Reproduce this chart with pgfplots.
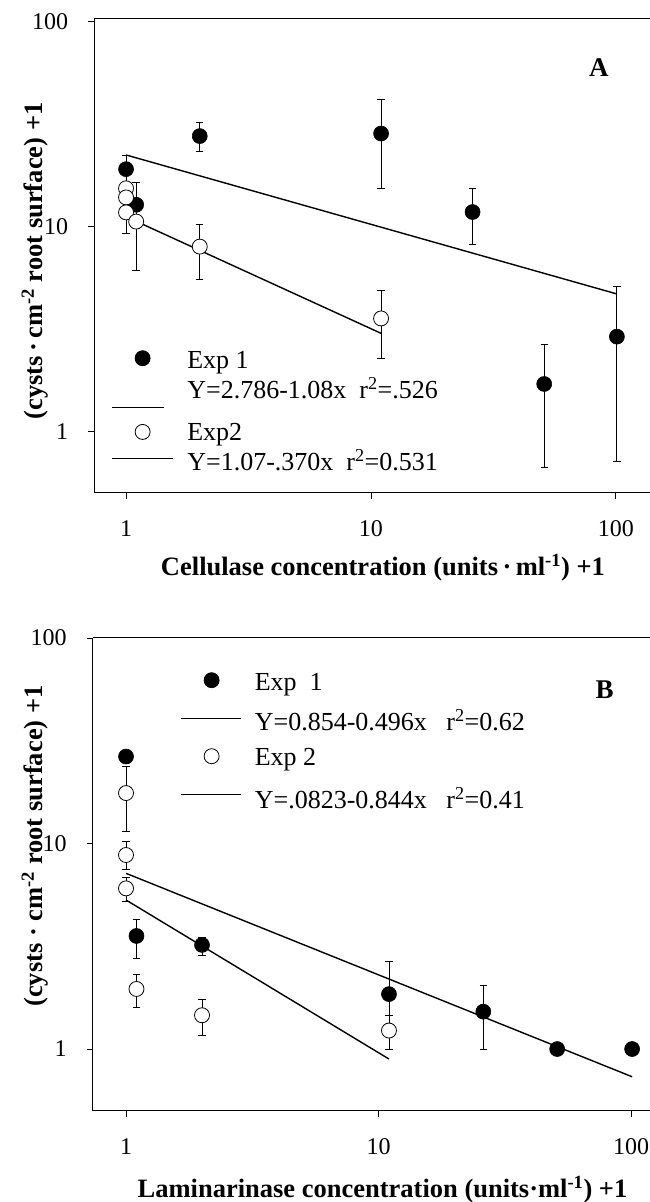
\documentclass[border=0pt]{standalone}
\usepackage{fontspec}
\setmainfont{Liberation Serif}
\usepackage{pgfplots}
\pgfplotsset{compat=1.18}

\pgfplotsset{
  regline/.style={no marks, line width=1.4bp, black},
  ebars/.style={
    error bars/y dir=both, error bars/y explicit,
    error bars/error bar style={line width=0.8bp, black},
    error bars/error mark options={rotate=90, mark size=3.7bp, line width=0.8bp, black}},
  fullpt/.style={only marks, mark=*, mark size=7.5bp,
    mark options={fill=black, draw=black, line width=0.6bp}, ebars},
  hollowpt/.style={only marks, mark=*, mark size=7.5bp,
    mark options={fill=white, draw=black, line width=0.8bp}, ebars},
}
% legend keys: #1 fill / line length, #2 y offset from the text centre,
% #3 depth and #4 height of the row around the text centre
\newcommand\dotkey[4]{\addlegendimage{legend image code/.code={%
  \path[draw=none, fill=none] (0bp,-#3) rectangle (61bp,#4);
  \draw[fill=#1, line width=0.8bp] (30.7bp,#2) circle (7.5bp);}}}
\newcommand\linekey[4]{\addlegendimage{legend image code/.code={%
  \path[draw=none, fill=none] (0bp,-#3) rectangle (61bp,#4);
  \draw[line width=1.4bp] (0bp,#2) -- (#1,#2);}}}

\begin{document}
\begin{tikzpicture}
\useasboundingbox (0,0) rectangle (650bp,-1202bp);

% ---------- panel A: cellulase ----------
\begin{axis}[scale only axis, xmode=log, ymode=log,
  axis x line=box, axis y line=left,
  axis line style={-, line width=1bp},
  xtick pos=left, ytick pos=left, tick align=outside,
  major tick length=6bp, tick style={line width=0.8bp, black},
  minor tick length=0pt,
  xtick={1,10,100}, xticklabels={1,10,100},
  ytick={1,10,100}, yticklabels={1,10,100},
  ticklabel style={font=\fontsize{24bp}{24bp}\selectfont, inner sep=0pt},
  yticklabel style={anchor=east, xshift=-20bp},
  xticklabel style={anchor=north, yshift=-22bp},
  label style={font=\bfseries\fontsize{26.5bp}{30bp}\selectfont},
  legend cell align=left,
  clip=false,
  width=555.7bp, height=474.4bp,
  at={(94.3bp,-492.7bp)}, anchor=south west,
  xmin=0.742, xmax=137.9, ymin=0.504, ymax=104,
  xlabel={Cellulase concentration (units\,·\,ml\textsuperscript{-1}) +1},
  ylabel={(cysts\,·\,cm\textsuperscript{-2} root surface) +1},
  xlabel style={at={(rel axis cs:0.5195,-0.1587)}, anchor=center},
  ylabel style={at={(rel axis cs:-0.1067,0.4884)}, anchor=center},
  legend style={draw=none, fill=none, inner sep=0pt, row sep=0pt,
    font=\fontsize{26bp}{30bp}\selectfont,
    nodes={inner sep=0pt, text height=17.2bp, text depth=0bp},
    at={(0.0301,0.3113)}, anchor=north west, column sep=14bp}]

\addplot[forget plot, regline] coordinates {(1,22.4) (101,4.70)};
\addplot[forget plot, regline] coordinates {(1,11.2) (11,3.02)};

\addplot[forget plot, fullpt] coordinates {
  (1,19.1)   += (0,3.3)  -= (0,3.0)
  (1.1,12.8) += (0,3.6)  -= (0,2.0)
  (2,27.7)   += (0,4.5)  -= (0,4.5)
  (11,28.5)  += (0,13.3) -= (0,13.1)
  (26,11.8)  += (0,3.6)  -= (0,3.6)
  (51,1.71)  += (0,0.97) -= (0,1.04)
  (101,2.91) += (0,2.18) -= (0,2.19)
};
\addplot[forget plot, hollowpt] coordinates {
  (1,15.4)   += (0,0)   -= (0,0)
  (1,13.9)   += (0,2.5) -= (0,4.6)
  (1,11.75)  += (0,0)   -= (0,0)
  (1.1,10.6) += (0,2.0) -= (0,4.5)
  (2,8.0)    += (0,2.3) -= (0,2.45)
  (11,3.57)  += (0,1.3) -= (0,1.29)
};

\dotkey{black}{2bp}{15bp}{15bp}
\addlegendentry{Exp 1}
\linekey{51.7bp}{-17bp}{26.7bp}{15bp}
\addlegendentry{Y=2.786-1.08x\hspace{0.5em}r\textsuperscript{2}=.526}
\dotkey{white}{0bp}{15bp}{15bp}
\addlegendentry{Exp2}
\linekey{60.7bp}{3.7bp}{15bp}{15bp}
\addlegendentry{Y=1.07-.370x\hspace{0.5em}r\textsuperscript{2}=0.531}

\node[font=\bfseries\fontsize{27bp}{27bp}\selectfont] at (rel axis cs:0.9082,0.8952) {A};
\end{axis}

% ---------- panel B: laminarinase ----------
\begin{axis}[scale only axis, xmode=log, ymode=log,
  axis x line=box, axis y line=left,
  axis line style={-, line width=1bp},
  xtick pos=left, ytick pos=left, tick align=outside,
  major tick length=6bp, tick style={line width=0.8bp, black},
  minor tick length=0pt,
  xtick={1,10,100}, xticklabels={1,10,100},
  ytick={1,10,100}, yticklabels={1,10,100},
  ticklabel style={font=\fontsize{24bp}{24bp}\selectfont, inner sep=0pt},
  yticklabel style={anchor=east, xshift=-20bp},
  xticklabel style={anchor=north, yshift=-22bp},
  label style={font=\bfseries\fontsize{26.5bp}{30bp}\selectfont},
  legend cell align=left,
  clip=false,
  width=557.3bp, height=473bp,
  at={(92.7bp,-1110.7bp)}, anchor=south west,
  xmin=0.738, xmax=118.9, ymin=0.501, ymax=100.3,
  xlabel={Laminarinase concentration (units·ml\textsuperscript{-1}) +1},
  ylabel={(cysts · cm\textsuperscript{-2} root surface) +1},
  xlabel style={at={(rel axis cs:0.52,-0.1677)}, anchor=center},
  ylabel style={at={(rel axis cs:-0.1035,0.5596)}, anchor=center},
  legend style={draw=none, fill=none, inner sep=0pt, row sep=0pt,
    font=\fontsize{26bp}{30bp}\selectfont,
    nodes={inner sep=0pt, text height=17.2bp, text depth=0bp},
    at={(0.1567,0.9387)}, anchor=north west, column sep=12.7bp}]

\addplot[forget plot, regline] coordinates {(1,7.16) (101,0.733)};
\addplot[forget plot, regline] coordinates {(1,5.31) (11,0.894)};

\addplot[forget plot, fullpt] coordinates {
  (1,26.5)   += (0,0)    -= (0,0)
  (1.1,3.55) += (0,0.72) -= (0,0.79)
  (2,3.21)   += (0,0.29) -= (0,0.34)
  (11,1.85)  += (0,0.83) -= (0,0.40)
  (26,1.52)  += (0,0.51) -= (0,0.52)
  (51,1.0)   += (0,0)    -= (0,0)
  (101,1.0)  += (0,0)    -= (0,0)
};
\addplot[forget plot, hollowpt] coordinates {
  (1,17.6)   += (0,6.1)  -= (0,6.1)
  (1,8.79)   += (0,1.4)  -= (0,1.3)
  (1,6.05)   += (0,0.8)  -= (0,0.85)
  (1.1,1.96) += (0,0.36) -= (0,0.37)
  (2,1.46)   += (0,0.28) -= (0,0.30)
  (11,1.23)  += (0,0.22) -= (0,0.23)
};

\dotkey{black}{1.7bp}{25.3bp}{15bp}
\addlegendentry{Exp\hspace{0.5em}1}
\linekey{60.5bp}{4bp}{19.5bp}{15bp}
\addlegendentry{Y=0.854-0.496x\hspace{0.75em}r\textsuperscript{2}=0.62}
\dotkey{white}{0.5bp}{28.5bp}{15bp}
\addlegendentry{Exp 2}
\linekey{60.5bp}{5.5bp}{15bp}{15bp}
\addlegendentry{Y=.0823-0.844x\hspace{0.75em}r\textsuperscript{2}=0.41}

\node[font=\bfseries\fontsize{27bp}{27bp}\selectfont] at (rel axis cs:0.9184,0.8894) {B};
\end{axis}
\end{tikzpicture}
\end{document}
